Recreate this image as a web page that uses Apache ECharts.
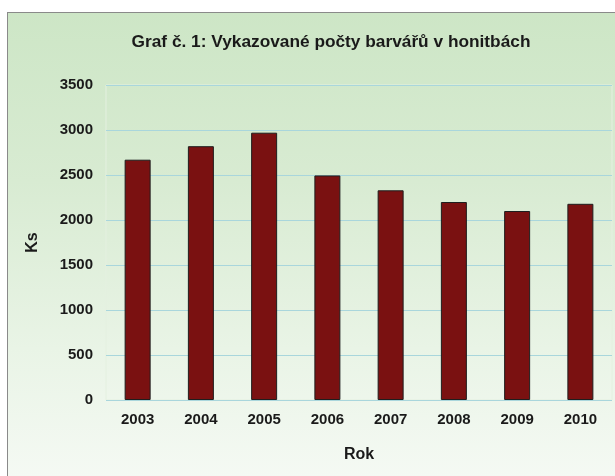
<!DOCTYPE html>
<html>
<head>
<meta charset="utf-8">
<script src="https://cdn.jsdelivr.net/npm/echarts@6/dist/echarts.min.js"></script>
<style>
html,body{margin:0;padding:0;background:#fff;}
#frame{position:absolute;left:7px;top:12px;width:620px;height:480px;border:1px solid #8a8a8a;
background:linear-gradient(to bottom,#cde6c6 0%,#d8ebd2 35%,#e9f4e6 70%,#f6faf5 100%);}
#chart{position:absolute;left:0;top:0;width:615px;height:476px;}
</style>
</head>
<body>
<div id="frame"></div>
<div id="chart"></div>
<script>
const categories = ['2003','2004','2005','2006','2007','2008','2009','2010'];
const values = [2670, 2820, 2970, 2495, 2330, 2200, 2100, 2180];
const yTicks = [0, 500, 1000, 1500, 2000, 2500, 3000, 3500];

const chart = echarts.init(document.getElementById('chart'), null, {renderer:'canvas'});
const txt = {fontFamily: 'Liberation Sans', fontWeight: 'bold', color: '#1a1a1a'};
chart.setOption({
  backgroundColor: 'transparent',
  animation: false,
  title: {
    text: 'Graf č. 1: Vykazované počty barvářů v honitbách',
    left: 326, top: 29, textAlign: 'center',
    textStyle: Object.assign({fontSize: 17.3}, txt)
  },
  grid: {left: 106, right: 3, top: 85, bottom: 76, show: true, borderColor: '#e4f0e0', borderWidth: 1, backgroundColor: 'transparent'},
  xAxis: {
    type: 'category', data: categories,
    name: 'Rok', nameLocation: 'middle', nameGap: 47,
    nameTextStyle: Object.assign({fontSize: 16}, txt),
    axisLine: {show: false}, axisTick: {show: false},
    axisLabel: Object.assign({fontSize: 15, margin: 12}, txt)
  },
  yAxis: {
    type: 'value', min: yTicks[0], max: yTicks[yTicks.length-1], interval: 500,
    name: 'Ks', nameLocation: 'middle', nameGap: 65, nameRotate: 90,
    nameTextStyle: Object.assign({fontSize: 16}, txt),
    axisLine: {show: false}, axisTick: {show: false},
    axisLabel: Object.assign({fontSize: 15, margin: 13, formatter: v => String(v)}, txt),
    splitLine: {lineStyle: {color: '#a9d6dc', width: 1}}
  },
  series: [{
    type: 'bar', data: values, barWidth: 26,
    itemStyle: {color: '#7a1111', borderColor: '#1e1e1e', borderWidth: 1}
  }]
});
</script>
</body>
</html>
